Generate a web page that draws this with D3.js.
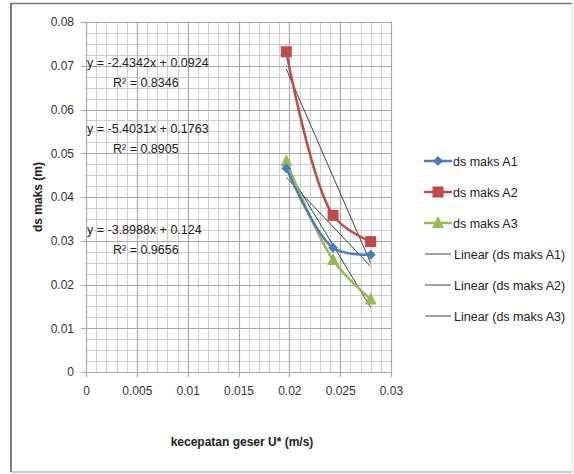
<!DOCTYPE html>
<html><head><meta charset="utf-8">
<script src="https://cdn.jsdelivr.net/npm/d3@7"></script>
<style>
html,body{margin:0;padding:0;background:#fff;}
text{font-family:"Liberation Sans Narrow","Arial Narrow","Liberation Sans",sans-serif;}
</style></head>
<body>
<svg id="c" width="574" height="474"></svg>
<script>
const xValues = [0.0197, 0.0243, 0.0280];
const seriesNames = ["ds maks A1", "ds maks A2", "ds maks A3"];
const dsA1 = [0.0466, 0.0284, 0.0268];
const dsA2 = [0.0732, 0.0358, 0.0298];
const dsA3 = [0.0482, 0.0256, 0.0166];
const seriesColors = ["#4a7ebb", "#be4b48", "#98b954"];
const markerTypes = ["diamond", "square", "triangle"];
const xTicks = [0, 0.005, 0.01, 0.015, 0.02, 0.025, 0.03];
const yTicks = [0, 0.01, 0.02, 0.03, 0.04, 0.05, 0.06, 0.07, 0.08];
const eqLabels = [
  ["y = -2.4342x + 0.0924", "R² = 0.8346"],
  ["y = -5.4031x + 0.1763", "R² = 0.8905"],
  ["y = -3.8988x + 0.124", "R² = 0.9656"]
];
const eqYValues = [0.0698, 0.0547, 0.0316];
const legendNames = ["ds maks A1", "ds maks A2", "ds maks A3", "Linear (ds maks A1)", "Linear (ds maks A2)", "Linear (ds maks A3)"];

const svg = d3.select("#c");
const L = 86, R = 391, T = 22, B = 372;
const x = d3.scaleLinear().domain([0, 0.03]).range([L, R]);
const y = d3.scaleLinear().domain([0, 0.08]).range([B, T]);

// frame
svg.append("line").attr("x1",11).attr("y1",3.5).attr("x2",572).attr("y2",3.5).attr("stroke","#777").attr("stroke-width",1.5);
svg.append("line").attr("x1",11).attr("y1",3).attr("x2",11).attr("y2",472).attr("stroke","#555").attr("stroke-width",1.5);
svg.append("line").attr("x1",11).attr("y1",472).attr("x2",572).attr("y2",472).attr("stroke","#999").attr("stroke-width",1.2);
svg.append("line").attr("x1",572).attr("y1",3).attr("x2",572).attr("y2",472).attr("stroke","#ddd").attr("stroke-width",1);

// minor grid
const g = svg.append("g");
d3.range(0, 0.0300001, 0.001).forEach(v => {
  g.append("line").attr("x1",Math.round(x(v))+0.5).attr("x2",Math.round(x(v))+0.5).attr("y1",T).attr("y2",B)
   .attr("stroke","#cfcfcf").attr("stroke-width",1);
});
d3.range(0, 0.0800001, 0.0025).forEach(v => {
  g.append("line").attr("y1",Math.round(y(v))+0.5).attr("y2",Math.round(y(v))+0.5).attr("x1",L).attr("x2",R)
   .attr("stroke","#cfcfcf").attr("stroke-width",1);
});
// major grid
xTicks.forEach(v => {
  g.append("line").attr("x1",Math.round(x(v))+0.5).attr("x2",Math.round(x(v))+0.5).attr("y1",T).attr("y2",B+5)
   .attr("stroke","#a8a8a8").attr("stroke-width",1.2);
});
yTicks.forEach(v => {
  g.append("line").attr("y1",Math.round(y(v))+0.5).attr("y2",Math.round(y(v))+0.5).attr("x1",L-5).attr("x2",R)
   .attr("stroke","#a8a8a8").attr("stroke-width",1.2);
});

// axes labels
const yAxis = d3.axisLeft(y).tickValues(yTicks).tickSize(0).tickPadding(12).tickFormat(d => d === 0 ? "0" : d3.format(".2f")(d));
const ya = svg.append("g").attr("transform",`translate(${L},0)`).call(yAxis);
ya.select(".domain").remove();
ya.selectAll("text").attr("font-size",12).attr("fill","#333").attr("font-family",'"Liberation Sans Narrow","Arial Narrow",sans-serif');
const xAxis = d3.axisBottom(x).tickValues(xTicks).tickSize(0).tickPadding(14).tickFormat(d => d === 0 ? "0" : String(+d.toFixed(3)));
const xa = svg.append("g").attr("transform",`translate(0,${B})`).call(xAxis);
xa.select(".domain").remove();
xa.selectAll("text").attr("font-size",12).attr("fill","#333").attr("font-family",'"Liberation Sans Narrow","Arial Narrow",sans-serif');

svg.append("text").attr("transform",`translate(42,${(T+B)/2}) rotate(-90)`).attr("text-anchor","middle")
  .attr("font-size",12).attr("font-weight","bold").attr("fill","#222").text("ds maks (m)");
svg.append("text").attr("x",242).attr("y",446).attr("text-anchor","middle")
  .attr("font-size",12).attr("font-weight","bold").attr("fill","#222").text("kecepatan geser U* (m/s)");

// trendlines via least squares
const allSeries = [dsA1, dsA2, dsA3];
function fit(ys){
  const n = xValues.length, mx = d3.mean(xValues), my = d3.mean(ys);
  let sxy=0, sxx=0;
  for(let i=0;i<n;i++){ sxy += (xValues[i]-mx)*(ys[i]-my); sxx += (xValues[i]-mx)**2; }
  const m = sxy/sxx; return [m, my - m*mx];
}
allSeries.forEach((ys,i) => {
  const [m,b] = fit(ys);
  const x0 = d3.min(xValues), x1 = d3.max(xValues);
  svg.append("line").attr("x1",x(x0)).attr("y1",y(m*x0+b)).attr("x2",x(x1)).attr("y2",y(m*x1+b))
    .attr("stroke","#444").attr("stroke-width",1);
});

// series smooth lines
const line = d3.line().x(d=>x(d[0])).y(d=>y(d[1])).curve(d3.curveCatmullRom.alpha(0.5));
function marker(sel, type, color, cx, cy){
  if(type==="diamond"){
    sel.append("path").attr("d",`M${cx},${cy-5}L${cx+5},${cy}L${cx},${cy+5}L${cx-5},${cy}Z`).attr("fill",color);
  } else if(type==="square"){
    sel.append("rect").attr("x",cx-5.5).attr("y",cy-5.5).attr("width",11).attr("height",11).attr("fill",color);
  } else {
    sel.append("path").attr("d",`M${cx},${cy-7}L${cx+6},${cy+5}L${cx-6},${cy+5}Z`).attr("fill",color);
  }
}
[2,1,0].forEach(i => {
  const pts = xValues.map((xv,j)=>[xv, allSeries[i][j]]);
  svg.append("path").attr("d",line(pts)).attr("fill","none").attr("stroke",seriesColors[i]).attr("stroke-width",2.5);
});
[2,1,0].forEach(i => {
  const mg = svg.append("g");
  xValues.forEach((xv,j)=> marker(mg, markerTypes[i], seriesColors[i], x(xv), y(allSeries[i][j])));
});

// equation labels
eqLabels.forEach((lab,i) => {
  const yy = y(eqYValues[i]);
  svg.append("text").attr("x",87).attr("y",yy).attr("font-size",12.5).attr("fill","#222").text(lab[0]);
  svg.append("text").attr("x",113).attr("y",yy+20).attr("font-size",12.5).attr("fill","#222").text(lab[1]);
});

// legend
const lg = svg.append("g");
legendNames.forEach((name,i) => {
  const ly = 161 + i*31;
  if(i<3){
    lg.append("line").attr("x1",424).attr("x2",452).attr("y1",ly).attr("y2",ly).attr("stroke",seriesColors[i]).attr("stroke-width",2.5);
    marker(lg, markerTypes[i], seriesColors[i], 438, ly);
  } else {
    lg.append("line").attr("x1",425).attr("x2",451).attr("y1",ly).attr("y2",ly).attr("stroke","#444").attr("stroke-width",1);
  }
  lg.append("text").attr("x", i<3 ? 453 : 454).attr("y",ly+4.5).attr("font-size",12.5).attr("fill","#222").text(name);
});
</script>
</body></html>
